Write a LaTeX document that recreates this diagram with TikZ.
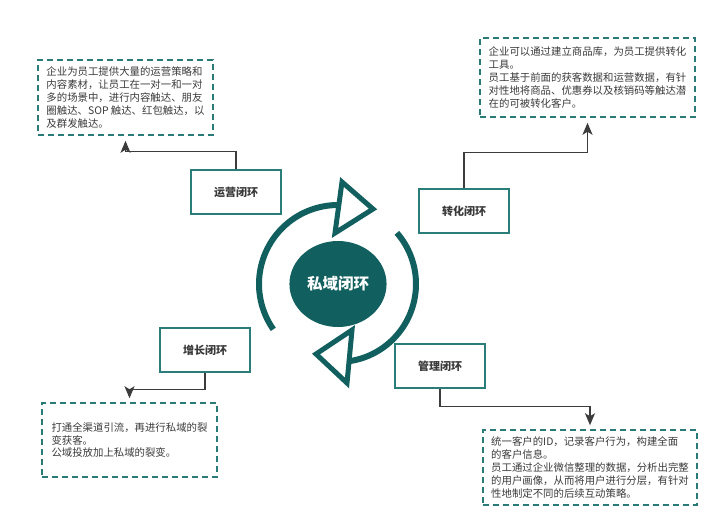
\documentclass[tikz,border=0pt]{standalone}
\usepackage{fontspec}
\setmainfont{Noto Sans CJK SC}
\usetikzlibrary{shapes.geometric,arrows.meta}
\definecolor{ringteal}{HTML}{115F5E}
\definecolor{tagteal}{HTML}{2B7D7A}
\definecolor{dashteal}{HTML}{2A7B77}
\definecolor{inkgray}{HTML}{3A3A3A}
\definecolor{wiregray}{HTML}{3C3C3C}
\begin{document}
\begin{tikzpicture}[x=1pt, y=-1pt,
    tag/.style={draw=tagteal, line width=1.2pt, fill=white, minimum width=90pt, minimum height=44pt,
        text=inkgray, font=\fontsize{11}{13}\selectfont\bfseries},
    note/.style={draw=dashteal, line width=1.5pt, dash pattern=on 6pt off 4pt, align=left,
        text=inkgray, font=\fontsize{10.4}{12.8}\selectfont},
    link/.style={draw=wiregray, line width=1.5pt, -{Stealth[length=12pt,width=10pt,inset=3pt]}},
    ring/.style={draw=ringteal, line width=6pt}]
    \path[use as bounding box] (0,0) rectangle (720,531);

    % centre
    \node[ellipse, fill=ringteal, minimum width=97pt, minimum height=86pt, text=white,
        font=\fontsize{15.5}{18}\selectfont\bfseries] (core) at (338,284) {私域闭环};
    \draw[ring] plot[domain=145:270, samples=50, smooth] ({338+79*cos(\x)},{284+79*sin(\x)});
    \draw[ring] plot[domain=-41:82, samples=50, smooth] ({338+78*cos(\x)},{284+78*sin(\x)});
    \draw[ring, line width=5pt, line join=miter] (342,182) -- (373,209) -- (335,233) -- cycle;
    \draw[ring, line width=5pt, line join=miter] (352,330) -- (316,354) -- (347,383) -- cycle;

    % the four loops
    \node[tag] (yy) at (236,192) {运营闭环};
    \node[tag] (zh) at (464,211) {转化闭环};
    \node[tag] (zz) at (205,350) {增长闭环};
    \node[tag] (gl) at (440,366) {管理闭环};

    % notes
    \node[note, minimum width=175pt, minimum height=75pt] (yynote) at (125.5,97.5)
        {企业为员工提供大量的运营策略和\\内容素材，让员工在一对一和一对\\多的场景中，进行内容触达、朋友\\圈触达、SOP 触达、红包触达，以\\及群发触达。};
    \node[note, minimum width=215pt, minimum height=79pt] (zhnote) at (587.5,77.5)
        {企业可以通过建立商品库，为员工提供转化\\工具。\\员工基于前面的获客数据和运营数据，有针\\对性地将商品、优惠券以及核销码等触达潜\\在的可被转化客户。};
    \node[note, minimum width=175pt, minimum height=74pt] (zznote) at (129.5,440)
        {打通全渠道引流，再进行私域的裂\\变获客。\\公域投放加上私域的裂变。};
    \node[note, minimum width=214pt, minimum height=75pt] (glnote) at (590,467.5)
        {统一客户的ID，记录客户行为，构建全面\\的客户信息。\\员工通过企业微信整理的数据，分析出完整\\的用户画像，从而将用户进行分层，有针对\\性地制定不同的后续互动策略。};

    % connectors
    \coordinate (yytip) at ([yshift=-5pt]yynote.south);
    \coordinate (zhtip) at ([yshift=-5pt]zhnote.south);
    \coordinate (zztip) at ([yshift=4pt]zznote.north);
    \coordinate (gltip) at ([yshift=4pt]glnote.north);
    \draw[link] (yy.north) -- ++(0,-18) -| (yytip);
    \draw[link] (zh.north) -- ++(0,-36) -| (zhtip);
    \draw[link] (zz.south) -- ++(0,17) -| (zztip);
    \draw[link] (gl.south) -- ++(0,18) -| (gltip);
\end{tikzpicture}
\end{document}
